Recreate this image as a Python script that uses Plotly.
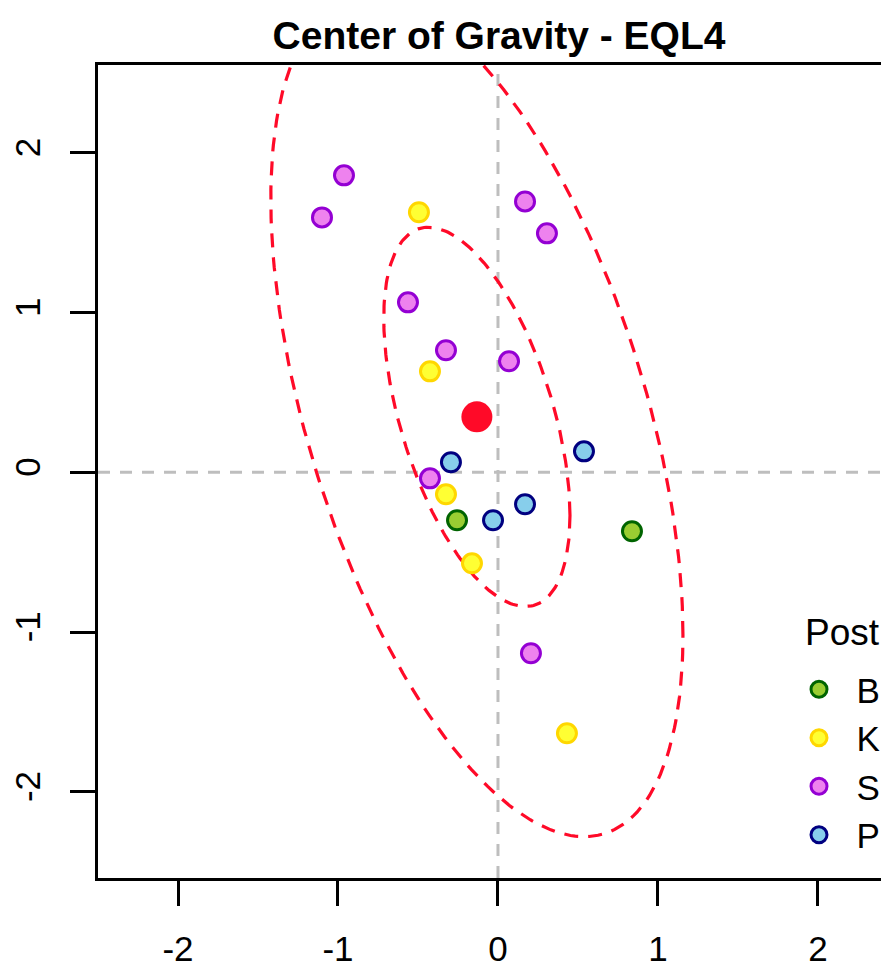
import numpy as np
import plotly.graph_objects as go

# ---- data ----
groups = ["B", "K", "S", "P"]
x_B = [-0.256, 0.8375]
y_B = [-0.300, -0.369]
x_K = [-0.494, -0.425, -0.325, -0.1625, 0.431]
y_K = [1.628, 0.632, -0.138, -0.570, -1.634]
x_S = [-0.9625, -1.100, 0.169, 0.306, -0.5625, -0.325, 0.069, -0.425, 0.206]
y_S = [1.859, 1.596, 1.696, 1.496, 1.064, 0.764, 0.695, -0.038, -1.133]
x_P = [-0.294, 0.5375, 0.169, -0.031]
y_P = [0.063, 0.131, -0.200, -0.300]
ellipse_levels = [0.5, 0.95]
x_ticks = [-2, -1, 0, 1, 2]
x_tick_labels = ["-2", "-1", "0", "1", "2"]
y_ticks = [-2, -1, 0, 1, 2]
y_tick_labels = ["-2", "-1", "0", "1", "2"]
legend_title = "Post"
ref_x = 0
ref_y = 0

fills = {"B": "#9ACD32", "K": "#FFFF33", "S": "#EE82EE", "P": "#87CEEB"}
edges = {"B": "#006400", "K": "#FFD700", "S": "#9400D3", "P": "#000080"}
xs = {"B": x_B, "K": x_K, "S": x_S, "P": x_P}
ys = {"B": y_B, "K": y_K, "S": y_S, "P": y_P}

all_x = np.array(x_B + x_K + x_S + x_P)
all_y = np.array(y_B + y_K + y_S + y_P)
n = len(all_x)
center = np.array([all_x.mean(), all_y.mean()])
cov = np.cov(np.vstack([all_x, all_y]))
L = np.linalg.cholesky(cov)

def qf2(p, d2):
    # quantile of F(2, d2)
    return d2 / 2.0 * ((1 - p) ** (-2.0 / d2) - 1)

RED = "#FF0A28"
FONT = "Liberation Sans, Arial, Helvetica, sans-serif"

# page body has an 8px margin: size the figure so it fills the window
OFF = 8
W, H = 889 - OFF, 967 - OFF

fig = go.Figure()

# reference lines
fig.add_shape(type="line", x0=ref_x, x1=ref_x, y0=0, y1=1, xref="x", yref="paper",
              line=dict(color="#BEBEBE", width=3, dash="12px,10px"), layer="below")
fig.add_shape(type="line", x0=0, x1=1, y0=ref_y, y1=ref_y, xref="paper", yref="y",
              line=dict(color="#BEBEBE", width=3, dash="12px,10px"), layer="below")

# ellipses computed from the data (car::dataEllipse style)
t = np.linspace(0, 2 * np.pi, 241)
circ = np.vstack([np.cos(t), np.sin(t)])
for lev in ellipse_levels:
    r = np.sqrt(2 * qf2(lev, n - 1))
    pts = center[:, None] + r * (L @ circ)
    fig.add_trace(go.Scatter(x=pts[0], y=pts[1], mode="lines", showlegend=False,
                             hoverinfo="skip",
                             line=dict(color=RED, width=3.2, dash="14px,10px")))

for g in groups:
    fig.add_trace(go.Scatter(x=xs[g], y=ys[g], mode="markers", name="\u2002" + g,
                             marker=dict(size=19, color=fills[g],
                                         line=dict(color=edges[g], width=3))))

fig.add_trace(go.Scatter(x=[center[0]], y=[center[1]], mode="markers", showlegend=False,
                         marker=dict(size=31, color=RED)))

plot_top = 65 - OFF
plot_bottom = 878 - OFF
plot_h = plot_bottom - plot_top
plot_l = 98 - OFF
plot_w = W - plot_l

fig.add_annotation(text=legend_title, xref="paper", yref="paper",
                   x=(803 - OFF - plot_l) / plot_w, xanchor="left",
                   y=(plot_bottom - (632 - OFF)) / plot_h, yanchor="middle",
                   showarrow=False, font=dict(family=FONT, size=37, color="black"))

fig.update_layout(
    width=W, height=H,
    margin=dict(l=plot_l, r=0, t=plot_top, b=H - plot_bottom),
    paper_bgcolor="white", plot_bgcolor="white",
    font=dict(family=FONT, color="black", size=34),
    title=dict(text="Center of Gravity - EQL4", xref="container", x=(499 - OFF) / W,
               xanchor="center", yref="container", y=1 - (35 - OFF) / H, yanchor="middle",
               font=dict(family=FONT, size=39, weight="bold", color="black")),
    legend=dict(x=(799 - OFF - plot_l) / plot_w, xanchor="left",
                y=(plot_bottom - (660 - OFF)) / plot_h, yanchor="top",
                bgcolor="rgba(0,0,0,0)", font=dict(family=FONT, size=35),
                itemsizing="trace", tracegroupgap=0),
    xaxis=dict(range=[-2.5, 2.444], tickvals=x_ticks, ticktext=x_tick_labels,
               ticks="outside", ticklen=25,
               tickwidth=3, tickcolor="black", showline=True, linecolor="black",
               linewidth=3, mirror=True, showgrid=False, zeroline=False,
               tickfont=dict(size=35), ticklabelstandoff=13),
    yaxis=dict(range=[-2.54, 2.55], tickvals=y_ticks, ticktext=y_tick_labels,
               ticks="outside", ticklen=25,
               tickwidth=3, tickcolor="black", showline=True, linecolor="black",
               linewidth=3, mirror=False, showgrid=False, zeroline=False,
               tickangle=-90, tickfont=dict(size=35), ticklabelstandoff=16),
)

fig.write_html("out.html")
